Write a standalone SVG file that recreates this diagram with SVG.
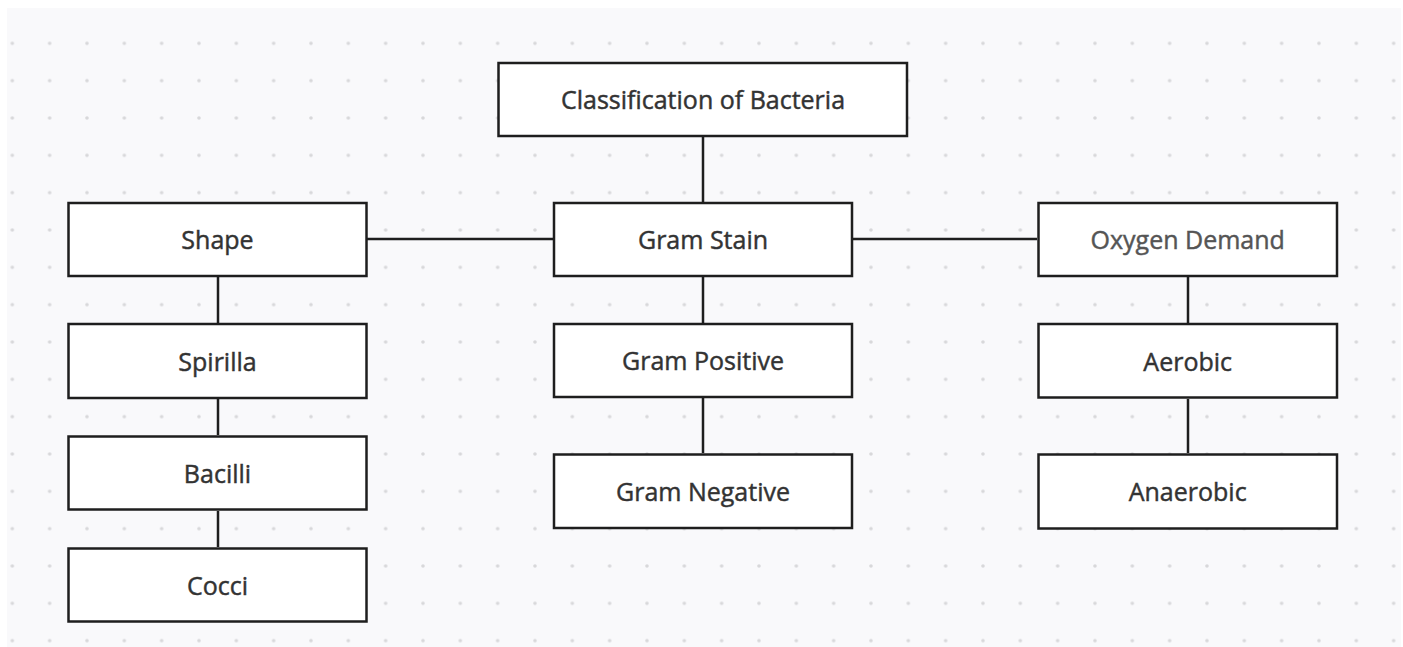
<svg xmlns="http://www.w3.org/2000/svg" width="1403" height="647" viewBox="0 0 1403 647">
<defs>
<pattern id="dots" x="12.33" y="6" width="37.333" height="37.333" patternUnits="userSpaceOnUse">
<circle cx="0" cy="0" r="1.8" fill="#d8d8da"/>
<circle cx="37.333" cy="0" r="1.8" fill="#d8d8da"/>
<circle cx="0" cy="37.333" r="1.8" fill="#d8d8da"/>
<circle cx="37.333" cy="37.333" r="1.8" fill="#d8d8da"/>
</pattern>
<style>
.box{fill:#ffffff;stroke:#1e1e1e;stroke-width:2.5}
.lbl{font-family:"Open Sans","Noto Sans","Liberation Sans",sans-serif;font-size:25px;font-weight:400;fill:#333333;stroke:#333333;stroke-width:0.45;text-anchor:middle}
.lbl.soft{fill:#555555;stroke:#555555}
.edge{stroke:#1e1e1e;stroke-width:2.5;fill:none}
</style>
</defs>
<rect x="0" y="0" width="1403" height="647" fill="#ffffff"/>
<rect x="7" y="8" width="1394" height="639" fill="#f9f9fb"/>
<rect x="7" y="8" width="1394" height="639" fill="url(#dots)"/>
<g id="connectors">
<line class="edge" x1="703" y1="137" x2="703" y2="202"/>
<line class="edge" x1="367" y1="239" x2="553" y2="239"/>
<line class="edge" x1="853" y1="239" x2="1037" y2="239"/>
<line class="edge" x1="703" y1="277" x2="703" y2="323"/>
<line class="edge" x1="703" y1="398" x2="703" y2="453"/>
<line class="edge" x1="218" y1="277" x2="218" y2="323"/>
<line class="edge" x1="218" y1="399" x2="218" y2="435"/>
<line class="edge" x1="218" y1="511" x2="218" y2="547"/>
<line class="edge" x1="1188" y1="277" x2="1188" y2="323"/>
<line class="edge" x1="1188" y1="399" x2="1188" y2="453"/>
</g>
<g id="classification">
<rect class="box" x="498.5" y="63" width="408.5" height="73"/>
<text class="lbl" x="703" y="109">Classification of Bacteria</text>
</g>
<g id="shape">
<rect class="box" x="68.5" y="203" width="298" height="73"/>
<text class="lbl" x="217.5" y="249">Shape</text>
</g>
<g id="gram-stain">
<rect class="box" x="554" y="203" width="298" height="73"/>
<text class="lbl" x="703" y="249">Gram Stain</text>
</g>
<g id="oxygen-demand">
<rect class="box" x="1038.5" y="203" width="298.5" height="73"/>
<text class="lbl soft" x="1187.7" y="249">Oxygen Demand</text>
</g>
<g id="spirilla">
<rect class="box" x="68.5" y="324" width="298" height="74"/>
<text class="lbl" x="217.5" y="371">Spirilla</text>
</g>
<g id="bacilli">
<rect class="box" x="68.5" y="436.5" width="298" height="73"/>
<text class="lbl" x="217.5" y="482.5">Bacilli</text>
</g>
<g id="cocci">
<rect class="box" x="68.5" y="548.5" width="298" height="73"/>
<text class="lbl" x="217.5" y="594.5">Cocci</text>
</g>
<g id="gram-positive">
<rect class="box" x="554" y="324" width="298" height="73"/>
<text class="lbl" x="703" y="370">Gram Positive</text>
</g>
<g id="gram-negative">
<rect class="box" x="554" y="454.5" width="298" height="73.5"/>
<text class="lbl" x="703" y="501">Gram Negative</text>
</g>
<g id="aerobic">
<rect class="box" x="1038.5" y="324" width="298.5" height="73.5"/>
<text class="lbl" x="1187.7" y="370.5">Aerobic</text>
</g>
<g id="anaerobic">
<rect class="box" x="1038.5" y="454.5" width="298.5" height="74"/>
<text class="lbl" x="1187.7" y="501">Anaerobic</text>
</g>
</svg>
